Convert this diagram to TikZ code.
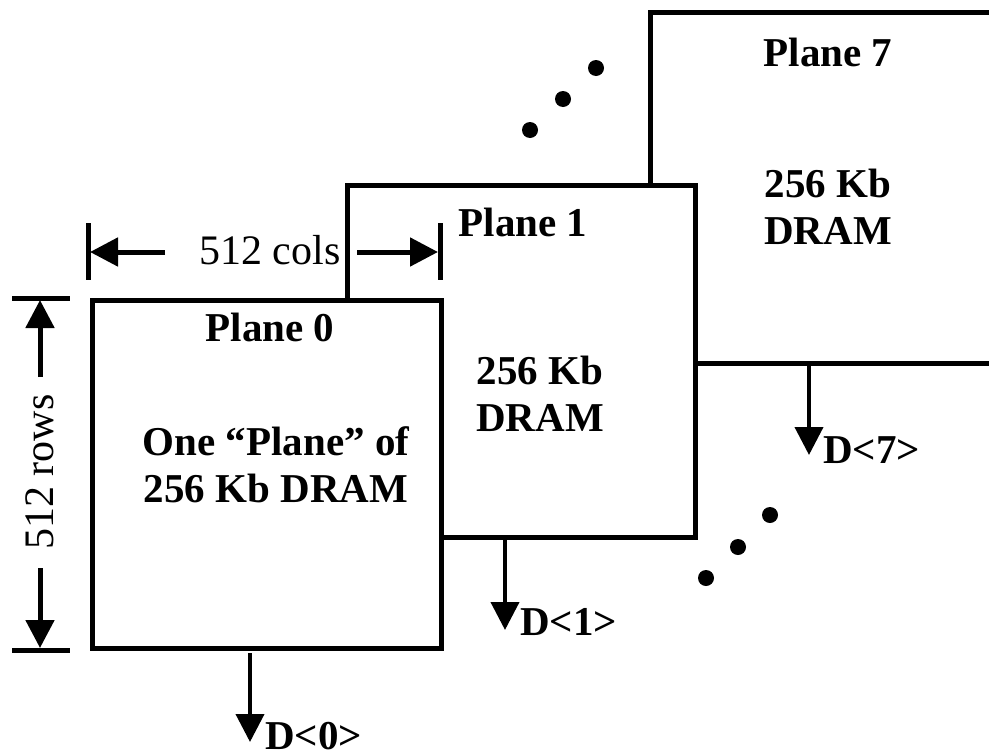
\documentclass[tikz,border=0pt]{standalone}
\usepackage{fontspec}
\setmainfont{Liberation Serif}
\usetikzlibrary{arrows.meta}
\begin{document}
\begin{tikzpicture}[x=1pt,y=-1pt,
 plane/.style={draw, fill=white, line width=5pt, inner sep=0pt},
 lbl/.style={font=\fontsize{41}{47}\selectfont\bfseries, align=center, inner sep=0pt},
 dimtext/.style={font=\fontsize{42}{48}\selectfont, inner sep=0pt},
 outarr/.style={line width=4pt, -{Triangle[length=28pt,width=28pt]}},
 dimarr/.style={line width=5pt, -{Triangle[length=28pt,width=28pt]}},
 tickline/.style={line width=5pt},
 dotmark/.style={fill=black}]
\useasboundingbox (0,0) rectangle (989,750);
\begin{scope}
\clip (0,0) rectangle (989,750);
% planes, back to front
\node[plane, minimum width=348pt, minimum height=351pt] (p7) at (824,187.5) {};
\node[plane, minimum width=348pt, minimum height=352pt] (p1) at (521,361) {};
\node[plane, minimum width=349pt, minimum height=348pt] (p0) at (266.5,474) {};

% plane texts
\node[lbl] (t7) at (828,52) {Plane 7};
\node[lbl] (m7) at (828,207) {256 Kb\\DRAM};
\node[lbl] (t1) at (523,222) {Plane 1};
\node[lbl] (m1) at (540,394) {256 Kb\\DRAM};
\node[lbl] (t0) at (270,327) {Plane 0};
\node[lbl] (m0) at (276,465) {One “Plane” of\\256 Kb DRAM};

% columns dimension
\coordinate (cl1) at (88,223); \coordinate (cl2) at (88,280);
\coordinate (cr1) at (440,223); \coordinate (cr2) at (440,280);
\draw[tickline] (cl1) -- (cl2);
\draw[tickline] (cr1) -- (cr2);
\node[dimtext] (cols) at (270,250) {512 cols};
\coordinate (ca) at (165,252); \coordinate (cat) at (90,252);
\coordinate (cb) at (357,252); \coordinate (cbt) at (438,252);
\draw[dimarr] (ca) -- (cat);
\draw[dimarr] (cb) -- (cbt);

% rows dimension
\coordinate (rt1) at (12,298); \coordinate (rt2) at (70,298);
\coordinate (rb1) at (12,650); \coordinate (rb2) at (70,650);
\draw[tickline] (rt1) -- (rt2);
\draw[tickline] (rb1) -- (rb2);
\node[dimtext, rotate=90] (rows) at (40,472) {512 rows};
\coordinate (ra) at (40,377); \coordinate (rat) at (40,300);
\coordinate (rb) at (40,568); \coordinate (rbt) at (40,648);
\draw[dimarr] (ra) -- (rat);
\draw[dimarr] (rb) -- (rbt);

% outputs
\coordinate (o0s) at (250,653); \coordinate (o0e) at (250,742);
\coordinate (o1s) at (505,540); \coordinate (o1e) at (505,630);
\coordinate (o7s) at (809,365); \coordinate (o7e) at (809,455);
\draw[outarr] (o0s) -- (o0e);
\draw[outarr] (o1s) -- (o1e);
\draw[outarr] (o7s) -- (o7e);
\node[lbl, anchor=west] (d0) at (265,736) {D<0>};
\node[lbl, anchor=west] (d1) at (520,622) {D<1>};
\node[lbl, anchor=west] (d7) at (823,450) {D<7>};

% ellipsis dots
\fill[dotmark] (530,130) circle (8pt);
\fill[dotmark] (563,99) circle (8pt);
\fill[dotmark] (596,68) circle (8pt);
\fill[dotmark] (706,578) circle (8pt);
\fill[dotmark] (738,547) circle (8pt);
\fill[dotmark] (770,515) circle (8pt);
\end{scope}
\end{tikzpicture}
\end{document}
